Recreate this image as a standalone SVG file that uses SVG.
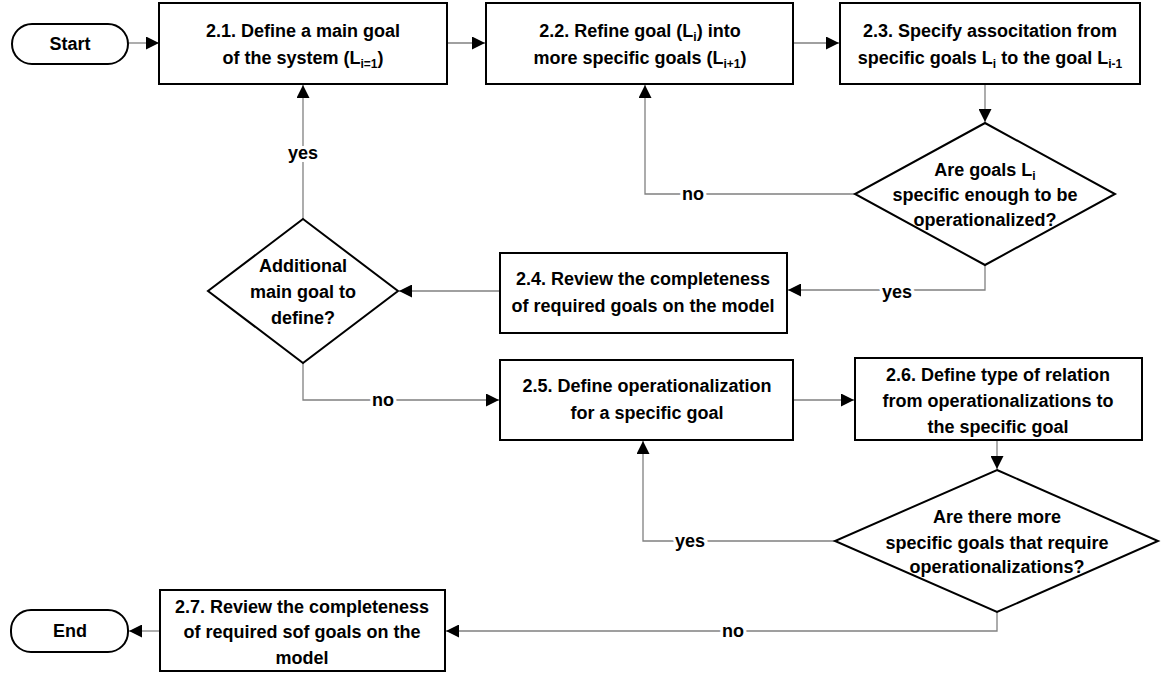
<svg xmlns="http://www.w3.org/2000/svg" width="1163" height="675" viewBox="0 0 1163 675">
<style>
.box{fill:#fff;stroke:#000;stroke-width:2}
.t{font-family:"Liberation Sans",Arial,sans-serif;font-weight:bold;font-size:18px;fill:#000;text-anchor:middle}
.sub{font-size:12px}
.ln{fill:none;stroke:#808080;stroke-width:1.3}
.lbl{font-family:"Liberation Sans",Arial,sans-serif;font-weight:bold;font-size:18px;fill:#000;text-anchor:middle;stroke:#fff;stroke-width:6;paint-order:stroke}
</style>
<defs>
<marker id="ah" viewBox="0 0 12 12" markerWidth="13" markerHeight="13" refX="12" refY="6" orient="auto" markerUnits="userSpaceOnUse">
<path d="M0,0 L12,6 L0,12 z" fill="#000"/>
</marker>
</defs>
<rect width="1163" height="675" fill="#fff"/>
<g id="connectors">
<path class="ln" d="M128,43 H159" marker-end="url(#ah)"/>
<path class="ln" d="M447,43 H485" marker-end="url(#ah)"/>
<path class="ln" d="M793,43 H839" marker-end="url(#ah)"/>
<path class="ln" d="M985,84 V122" marker-end="url(#ah)"/>
<path class="ln" d="M855,194 H645 V85" marker-end="url(#ah)"/>
<path class="ln" d="M985,265 V290 H788" marker-end="url(#ah)"/>
<path class="ln" d="M500,291 H399" marker-end="url(#ah)"/>
<path class="ln" d="M303,219 V85" marker-end="url(#ah)"/>
<path class="ln" d="M303,363 V400 H499" marker-end="url(#ah)"/>
<path class="ln" d="M793,400 H854" marker-end="url(#ah)"/>
<path class="ln" d="M997,440 V469" marker-end="url(#ah)"/>
<path class="ln" d="M835,541 H643 V441" marker-end="url(#ah)"/>
<path class="ln" d="M997,612 V631 H446" marker-end="url(#ah)"/>
<path class="ln" d="M160,631 H129" marker-end="url(#ah)"/>
<text class="lbl" x="693" y="200">no</text>
<text class="lbl" x="897" y="298">yes</text>
<text class="lbl" x="303" y="159">yes</text>
<text class="lbl" x="383" y="406">no</text>
<text class="lbl" x="690" y="547">yes</text>
<text class="lbl" x="733" y="637">no</text>
</g>
<g id="start">
<rect class="box" x="12" y="24" width="116" height="40" rx="20" ry="20"/>
<text class="t" x="70" y="50">Start</text>
</g>
<g id="s21">
<rect class="box" x="159" y="3" width="288" height="81"/>
<text class="t" x="303" y="37">2.1. Define a main goal</text>
<text class="t" x="303" y="64">of the system (L<tspan class="sub" dy="4">i=1</tspan><tspan dy="-4">)</tspan></text>
</g>
<g id="s22">
<rect class="box" x="486" y="3" width="307" height="81"/>
<text class="t" x="640" y="37">2.2. Refine goal (L<tspan class="sub" dy="4">i</tspan><tspan dy="-4">) into</tspan></text>
<text class="t" x="640" y="64">more specific goals (L<tspan class="sub" dy="4">i+1</tspan><tspan dy="-4">)</tspan></text>
</g>
<g id="s23">
<rect class="box" x="840" y="3" width="300" height="81"/>
<text class="t" x="990" y="37">2.3. Specify associtation from</text>
<text class="t" x="990" y="64">specific goals L<tspan class="sub" dy="4">i</tspan><tspan dy="-4"> to the goal L</tspan><tspan class="sub" dy="4">i-1</tspan></text>
</g>
<g id="d1">
<polygon class="box" points="985,123 1115,194 985,265 855,194"/>
<text class="t" x="985" y="176">Are goals L<tspan class="sub" dy="4">i</tspan></text>
<text class="t" x="985" y="201">specific enough to be</text>
<text class="t" x="985" y="226">operationalized?</text>
</g>
<g id="s24">
<rect class="box" x="500" y="253" width="287" height="80"/>
<text class="t" x="643" y="285">2.4. Review the completeness</text>
<text class="t" x="643" y="312">of required goals on the model</text>
</g>
<g id="d2">
<polygon class="box" points="303,219 398,291 303,363 208,291"/>
<text class="t" x="303" y="272">Additional</text>
<text class="t" x="303" y="298">main goal to</text>
<text class="t" x="303" y="324">define?</text>
</g>
<g id="s25">
<rect class="box" x="500" y="360" width="293" height="80"/>
<text class="t" x="647" y="392">2.5. Define operationalization</text>
<text class="t" x="647" y="419">for a specific goal</text>
</g>
<g id="s26">
<rect class="box" x="855" y="358" width="287" height="82"/>
<text class="t" x="998" y="381">2.6. Define type of relation</text>
<text class="t" x="998" y="407">from operationalizations to</text>
<text class="t" x="998" y="433">the specific goal</text>
</g>
<g id="d3">
<polygon class="box" points="997,470 1158,541 997,612 835,541"/>
<text class="t" x="997" y="523">Are there more</text>
<text class="t" x="997" y="549">specific goals that require</text>
<text class="t" x="997" y="573">operationalizations?</text>
</g>
<g id="s27">
<rect class="box" x="160" y="590" width="285" height="81"/>
<text class="t" x="302" y="613">2.7. Review the completeness</text>
<text class="t" x="302" y="638">of required sof goals on the</text>
<text class="t" x="302" y="664">model</text>
</g>
<g id="end">
<rect class="box" x="11" y="610" width="117" height="42" rx="20" ry="20"/>
<text class="t" x="70" y="637">End</text>
</g>
</svg>
